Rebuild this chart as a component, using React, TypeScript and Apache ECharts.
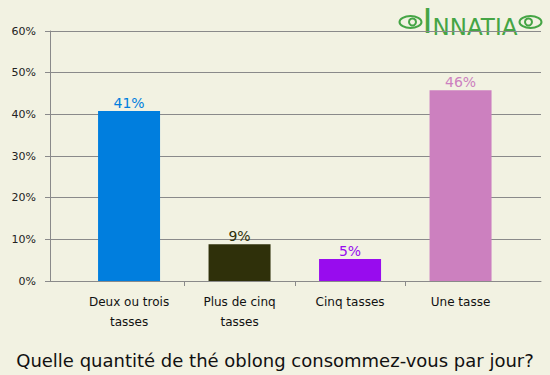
import React, { useEffect, useRef } from "react";
import * as echarts from "echarts";

const categories = ["Deux ou trois\ntasses", "Plus de cinq\ntasses", "Cinq tasses", "Une tasse"];
const values = [40.8, 8.8, 5.3, 45.8];
const barColors = ["#007ede", "#2f300a", "#980cee", "#cc80bf"];
const yTicks = [0, 10, 20, 30, 40, 50, 60];
const titleText = "Quelle quantité de thé oblong consommez-vous par jour?";

const BG = "#f2f2e2";
const GRID = "#8a8a8a";
const FONT = "DejaVu Sans";

export default function App() {
  const ref = useRef<HTMLDivElement>(null);
  useEffect(() => {
    if (!ref.current) return;
    const chart = echarts.init(ref.current, undefined, { renderer: "svg" });
    const green = "#45a545";
    chart.setOption({
      animation: false,
      backgroundColor: BG,
      textStyle: { fontFamily: FONT },
      title: {
        text: titleText,
        left: "center",
        top: 346,
        textStyle: { fontFamily: FONT, fontSize: 18, fontWeight: "normal", color: "#111" },
      },
      grid: [
        { left: 50, right: 9, top: 31, bottom: 94 },
        { left: 73.8, right: 34.2, top: 31, bottom: 94 },
      ],
      xAxis: [
        {
          gridIndex: 0,
          type: "category",
          data: ["x"],
          axisLine: { show: true, lineStyle: { color: GRID, width: 1 } },
          axisTick: { show: false },
          axisLabel: { show: false },
          splitLine: { show: false },
        },
        {
          gridIndex: 1,
          type: "category",
          data: categories,
          axisLine: { show: false },
          axisTick: { show: false },
          axisLabel: {
            color: "#111",
            fontSize: 12,
            fontFamily: FONT,
            lineHeight: 20,
            margin: 11,
            interval: 0,
          },
          splitLine: { show: false },
        },
        {
          gridIndex: 1,
          type: "value",
          min: 0,
          max: categories.length,
          position: "bottom",
          axisLine: { show: false },
          axisLabel: { show: false },
          splitLine: { show: false },
          axisTick: {
            show: true,
            length: 5,
            lineStyle: { color: GRID },
            customValues: [1, 2, 3],
          },
        },
      ],
      yAxis: [
        {
          gridIndex: 0,
          type: "value",
          min: yTicks[0],
          max: yTicks[yTicks.length - 1],
          interval: 10,
          axisLine: { show: true, lineStyle: { color: GRID } },
          axisTick: { show: true, length: 5, lineStyle: { color: GRID } },
          axisLabel: {
            formatter: "{value}%",
            color: "#222",
            fontSize: 11,
            fontFamily: FONT,
            margin: 14,
          },
          splitLine: { show: true, lineStyle: { color: GRID, width: 1 } },
        },
        {
          gridIndex: 1,
          type: "value",
          min: yTicks[0],
          max: yTicks[yTicks.length - 1],
          show: false,
        },
      ],
      series: [
        {
          type: "bar",
          xAxisIndex: 1,
          yAxisIndex: 1,
          barWidth: 62,
          data: values.map((v, i) => ({
            value: v,
            itemStyle: { color: barColors[i] },
            label: { color: barColors[i] },
          })),
          label: {
            show: true,
            position: "top",
            distance: 1,
            fontSize: 14,
            fontFamily: FONT,
            formatter: (p: any) => Math.round(p.value) + "%",
          },
        },
      ],
      graphic: [
        {
          type: "group",
          left: 397,
          top: 4,
          children: [
            {
              type: "ellipse",
              shape: { cx: 13, cy: 18, rx: 11, ry: 6 },
              style: { fill: "none", stroke: green, lineWidth: 2 },
            },
            { type: "circle", shape: { cx: 15, cy: 18, r: 3.5 }, style: { fill: "none", stroke: green, lineWidth: 2 } },
            {
              type: "ellipse",
              shape: { cx: 133, cy: 18, rx: 11, ry: 6 },
              style: { fill: "none", stroke: green, lineWidth: 2 },
            },
            { type: "circle", shape: { cx: 131, cy: 18, r: 3.5 }, style: { fill: "none", stroke: green, lineWidth: 2 } },
            {
              type: "text",
              x: 25,
              y: 0,
              style: {
                text: "{a|I}{b|NNATIA}",
                rich: {
                  a: { fontSize: 34, fontFamily: "DejaVu Sans", fontWeight: "normal", fill: green, color: green, verticalAlign: "bottom" },
                  b: { fontSize: 23, fontFamily: "DejaVu Sans", fontWeight: "normal", fill: green, color: green, verticalAlign: "bottom" },
                },
                fill: green,
              },
            },
          ],
        },
      ],
    });
    return () => chart.dispose();
  }, []);
  return (
    <div
      ref={ref}
      style={{ position: "fixed", left: 0, top: 0, width: 550, height: 375 }}
    />
  );
}
